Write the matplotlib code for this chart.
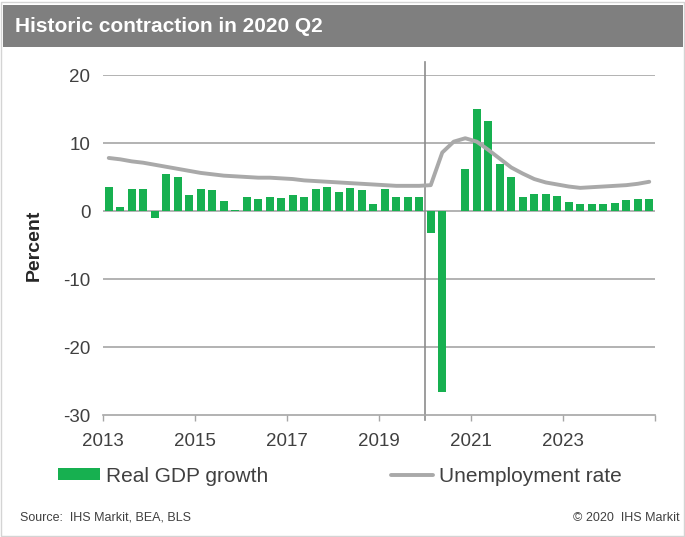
import matplotlib
matplotlib.use("Agg")
import matplotlib.pyplot as plt
from matplotlib.patches import Rectangle
import numpy as np

# quarterly data, 2013 Q1 .. 2024 Q4
start_year = 2013
gdp_growth = [
    3.5, 0.6, 3.2, 3.2,
    -1.1, 5.5, 5.0, 2.4,
    3.2, 3.1, 1.5, 0.2,
    2.0, 1.8, 2.0, 1.9,
    2.3, 2.1, 3.3, 3.6,
    2.8, 3.4, 3.1, 1.1,
    3.2, 2.1, 2.1, 2.1,
    -3.3, -26.6, 0.0, 6.2,
    15.0, 13.2, 6.9, 5.0,
    2.1, 2.5, 2.5, 2.2,
    1.3, 1.1, 1.1, 1.1,
    1.2, 1.6, 1.8, 1.7,
]
unemployment = [
    7.8, 7.6, 7.3, 7.1,
    6.8, 6.5, 6.2, 5.9,
    5.6, 5.4, 5.2, 5.1,
    5.0, 4.9, 4.9, 4.8,
    4.7, 4.5, 4.4, 4.3,
    4.2, 4.1, 4.0, 3.9,
    3.8, 3.7, 3.7, 3.7,
    3.8, 8.6, 10.2, 10.7,
    10.2, 9.0, 7.7, 6.4,
    5.5, 4.7, 4.2, 3.9,
    3.6, 3.4, 3.5, 3.6,
    3.7, 3.8, 4.0, 4.3,
]
tick_years = [2013, 2015, 2017, 2019, 2021, 2023, 2025]
tick_labels = ["2013", "2015", "2017", "2019", "2021", "2023", ""]
y_ticks = [-30, -20, -10, 0, 10, 20]

GREEN = "#17b050"
LINE_GRAY = "#a9a9a9"
GRID = "#a6a6a6"
TEXT = "#404040"

plt.rcParams["font.family"] = ["Liberation Sans", "DejaVu Sans"]

fig = plt.figure(figsize=(6.85, 5.37), dpi=100)
fig.patch.set_facecolor("white")

# frame and header band
fig.add_artist(Rectangle((0.002, 0.002), 0.996, 0.994, transform=fig.transFigure,
                         facecolor="none", edgecolor="#d4d4d4", linewidth=1.0))
fig.add_artist(Rectangle((3 / 685, 1 - 47 / 537), 680 / 685, 42 / 537, transform=fig.transFigure,
                         facecolor="#7f7f7f", edgecolor="none"))
fig.text(15 / 685, 1 - 27 / 537, "Historic contraction in 2020 Q2", color="white",
         fontsize=15, fontweight="bold", ha="left", va="center")

ax = fig.add_axes([103 / 685, 1 - 415 / 537, 552 / 685, 340 / 537])

n = len(gdp_growth)
x = start_year + (np.arange(n) + 0.5) / 4
bars = ax.bar(x, gdp_growth, width=0.175, color=GREEN, zorder=3, label="Real GDP growth")
line, = ax.plot(x, unemployment, color=LINE_GRAY, linewidth=2.8, zorder=4,
                solid_capstyle="round", label="Unemployment rate")

ax.set_xlim(2013, 2025)
ax.set_ylim(-30, 20)
ax.set_yticks(y_ticks)
ax.set_yticklabels([str(v) for v in y_ticks])
ax.set_xticks(tick_years)
ax.set_xticklabels(tick_labels)

for v in y_ticks[1:]:
    ax.axhline(v, color=GRID, linewidth=1.2, zorder=1)
ax.plot([2020, 2020], [-30.8, 21.9], color="#8c8c8c", linewidth=1.2, zorder=2, clip_on=False)

for side in ["left", "right", "top"]:
    ax.spines[side].set_visible(False)
ax.spines["bottom"].set_color(GRID)
ax.spines["bottom"].set_linewidth(1.2)
ax.tick_params(axis="x", direction="out", length=4, width=1.0, color=GRID,
               labelsize=13.5, labelcolor=TEXT, pad=9)
ax.tick_params(axis="y", length=0, labelsize=13.5, labelcolor=TEXT, pad=9)

ax.set_ylabel("Percent", fontsize=14, fontweight="bold", color="#262626")
ax.yaxis.set_label_coords(-0.11, 0.5)

leg = ax.legend(handles=[bars, line], loc="center left", ncol=2, frameon=False,
                bbox_to_anchor=(58 / 685, 1 - 476 / 537), bbox_transform=fig.transFigure,
                fontsize=15, handlelength=2.0, handleheight=0.45, handletextpad=0.3,
                columnspacing=5.9, borderaxespad=0, borderpad=0)
for t in leg.get_texts():
    t.set_color(TEXT)

fig.text(20 / 685, 1 - 518 / 537, "Source:  IHS Markit, BEA, BLS", fontsize=9,
         color=TEXT, ha="left", va="center")
fig.text(680 / 685, 1 - 518 / 537, "\u00a9 2020  IHS Markit", fontsize=9,
         color=TEXT, ha="right", va="center")

fig.savefig("out.png", dpi=100)
